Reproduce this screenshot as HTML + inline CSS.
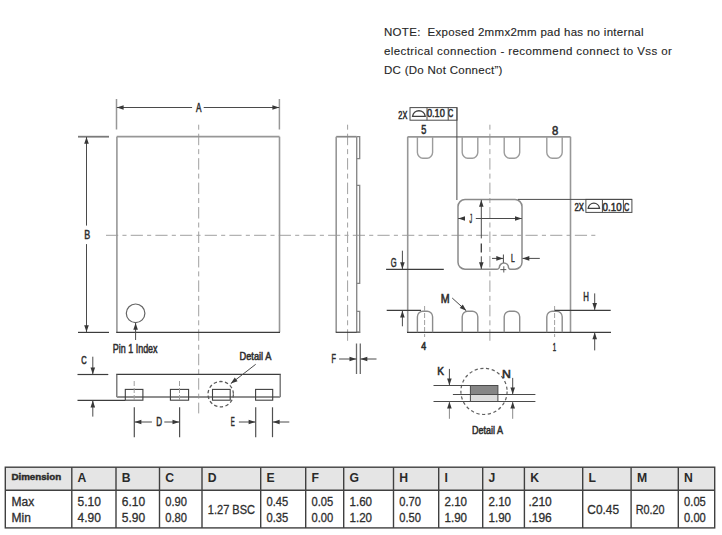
<!DOCTYPE html><html><head><meta charset="utf-8"><style>html,body{margin:0;padding:0;background:#fff;width:722px;height:535px;overflow:hidden}svg{display:block}</style></head><body>
<svg width="722" height="535" viewBox="0 0 722 535">
<rect x="0" y="0" width="722" height="535" fill="#fff"/>
<text x="384.0" y="36.1" font-family="&quot;Liberation Sans&quot;, sans-serif" font-size="11.5" fill="#262626" stroke="#262626" stroke-width="0.12" textLength="259.6" lengthAdjust="spacing" style="white-space:pre">NOTE:  Exposed 2mmx2mm pad has no internal</text>
<text x="384.0" y="54.8" font-family="&quot;Liberation Sans&quot;, sans-serif" font-size="11.5" fill="#262626" stroke="#262626" stroke-width="0.12" textLength="287.8" lengthAdjust="spacing" style="white-space:pre">electrical connection - recommend connect to Vss or</text>
<text x="384.0" y="73.7" font-family="&quot;Liberation Sans&quot;, sans-serif" font-size="11.5" fill="#262626" stroke="#262626" stroke-width="0.12" textLength="118.4" lengthAdjust="spacing" style="white-space:pre">DC (Do Not Connect”)</text>
<line x1="198.7" y1="124.7" x2="198.7" y2="413.4" stroke="#a0a0a0" stroke-width="1" stroke-dasharray="5 4 11.5 3.95" stroke-dashoffset="0"/>
<line x1="104.2" y1="235.3" x2="596.8" y2="235.3" stroke="#a0a0a0" stroke-width="1" stroke-dasharray="12.2 4.2 4.1 4.175" stroke-dashoffset="22.85"/>
<line x1="116.7" y1="136.7" x2="279.5" y2="136.7" stroke="#979797" stroke-width="1.8" />
<line x1="116.9" y1="136.7" x2="116.9" y2="332.2" stroke="#979797" stroke-width="1.6" />
<line x1="279.5" y1="136.7" x2="279.5" y2="332.2" stroke="#979797" stroke-width="1.6" />
<line x1="116.2" y1="332.4" x2="280" y2="332.4" stroke="#3c3c3c" stroke-width="1.3" />
<line x1="116.5" y1="99" x2="116.5" y2="129.5" stroke="#979797" stroke-width="1.5" />
<line x1="279.4" y1="99" x2="279.4" y2="129.5" stroke="#979797" stroke-width="1.5" />
<line x1="192.1" y1="107.5" x2="116.8" y2="107.5" stroke="#4a4a4a" stroke-width="1.0" />
<path d="M116.80,107.50 L123.60,105.20 L123.60,109.80 Z" fill="#383838"/>
<line x1="203.7" y1="107.5" x2="279.2" y2="107.5" stroke="#4a4a4a" stroke-width="1.0" />
<path d="M279.20,107.50 L272.40,109.80 L272.40,105.20 Z" fill="#383838"/>
<text x="196.00" y="111.51" font-family="&quot;Liberation Sans&quot;, sans-serif" font-size="12.23" font-weight="normal" fill="#2e2e2e" stroke="#2e2e2e" stroke-width="0.55" textLength="5.47" lengthAdjust="spacingAndGlyphs" style="white-space:pre">A</text>
<line x1="78" y1="136.7" x2="109" y2="136.7" stroke="#7a7a7a" stroke-width="1.8" />
<line x1="78" y1="332.4" x2="109" y2="332.4" stroke="#3c3c3c" stroke-width="1.2" />
<line x1="86.5" y1="225.6" x2="86.5" y2="137" stroke="#4a4a4a" stroke-width="1.0" />
<path d="M86.50,137.00 L88.80,143.80 L84.20,143.80 Z" fill="#383838"/>
<line x1="86.5" y1="244.1" x2="86.5" y2="332" stroke="#4a4a4a" stroke-width="1.0" />
<path d="M86.50,332.00 L84.20,325.20 L88.80,325.20 Z" fill="#383838"/>
<text x="84.36" y="239.21" font-family="&quot;Liberation Sans&quot;, sans-serif" font-size="13.34" font-weight="normal" fill="#2e2e2e" stroke="#2e2e2e" stroke-width="0.55" textLength="5.99" lengthAdjust="spacingAndGlyphs" style="white-space:pre">B</text>
<circle cx="135.6" cy="313.3" r="9.3" fill="none" stroke="#646464" stroke-width="1.2"/>
<line x1="135.6" y1="340" x2="135.6" y2="323" stroke="#4a4a4a" stroke-width="1.0" />
<path d="M135.60,323.00 L137.90,329.80 L133.30,329.80 Z" fill="#383838"/>
<text x="112.72" y="352.61" font-family="&quot;Liberation Sans&quot;, sans-serif" font-size="13.27" font-weight="normal" fill="#2e2e2e" stroke="#2e2e2e" stroke-width="0.55" textLength="44.87" lengthAdjust="spacingAndGlyphs" style="white-space:pre">Pin 1 Index</text>
<line x1="347.6" y1="123.8" x2="347.6" y2="342" stroke="#a0a0a0" stroke-width="1" stroke-dasharray="5 4 11.5 3.95" stroke-dashoffset="-0.9"/>
<line x1="336.2" y1="136.7" x2="356.7" y2="136.7" stroke="#888" stroke-width="1.7" />
<line x1="336.2" y1="136.7" x2="336.2" y2="332.2" stroke="#979797" stroke-width="1.6" />
<line x1="356.7" y1="136.7" x2="356.7" y2="332.2" stroke="#8a8a8a" stroke-width="1.4" />
<line x1="335.7" y1="332.3" x2="360.2" y2="332.3" stroke="#3c3c3c" stroke-width="1.2" />
<path d="M356.7,136.7 H359.7 V158.6 H356.7" fill="none" stroke="#858585" stroke-width="1.3"/>
<path d="M356.7,185.4 H359.7 V283.3 H356.7" fill="none" stroke="#858585" stroke-width="1.3"/>
<path d="M356.7,311.3 H359.7 V332.2 H356.7" fill="none" stroke="#858585" stroke-width="1.3"/>
<line x1="356.5" y1="343.5" x2="356.5" y2="374" stroke="#6a6a6a" stroke-width="1.3" />
<line x1="360.3" y1="343.5" x2="360.3" y2="374" stroke="#6a6a6a" stroke-width="1.3" />
<line x1="339.1" y1="359" x2="356.3" y2="359" stroke="#4a4a4a" stroke-width="1.0" />
<path d="M356.30,359.00 L349.50,361.30 L349.50,356.70 Z" fill="#383838"/>
<line x1="376.5" y1="359" x2="360.5" y2="359" stroke="#4a4a4a" stroke-width="1.0" />
<path d="M360.50,359.00 L367.30,356.70 L367.30,361.30 Z" fill="#383838"/>
<text x="331.56" y="363.00" font-family="&quot;Liberation Sans&quot;, sans-serif" font-size="13.04" font-weight="normal" fill="#2e2e2e" stroke="#2e2e2e" stroke-width="0.55" textLength="4.45" lengthAdjust="spacingAndGlyphs" style="white-space:pre">F</text>
<line x1="116.2" y1="374.4" x2="280.8" y2="374.4" stroke="#3c3c3c" stroke-width="1.2" />
<line x1="116.8" y1="374.4" x2="116.8" y2="397" stroke="#6a6a6a" stroke-width="1.3" />
<line x1="280.2" y1="374.4" x2="280.2" y2="397" stroke="#6a6a6a" stroke-width="1.3" />
<line x1="116.8" y1="397.0" x2="280.2" y2="397.0" stroke="#8f8f8f" stroke-width="1.8" />
<rect x="125.3" y="389.4" width="17.6" height="10.8" fill="none" stroke="#404040" stroke-width="1.1"/>
<rect x="170.4" y="389.4" width="18.2" height="10.8" fill="none" stroke="#404040" stroke-width="1.1"/>
<rect x="212.5" y="389.4" width="17.7" height="10.8" fill="none" stroke="#404040" stroke-width="1.1"/>
<rect x="255.6" y="389.4" width="17.1" height="10.8" fill="none" stroke="#404040" stroke-width="1.1"/>
<line x1="134.2" y1="381" x2="134.2" y2="400" stroke="#a0a0a0" stroke-width="1" stroke-dasharray="5 2" stroke-dashoffset="0"/>
<line x1="179.5" y1="381" x2="179.5" y2="400" stroke="#a0a0a0" stroke-width="1" stroke-dasharray="5 2" stroke-dashoffset="0"/>
<line x1="77.5" y1="374.5" x2="108.3" y2="374.5" stroke="#3c3c3c" stroke-width="1.2" />
<line x1="77.5" y1="400.3" x2="125.3" y2="400.3" stroke="#3c3c3c" stroke-width="1.2" />
<line x1="92.8" y1="356.7" x2="92.8" y2="374.3" stroke="#4a4a4a" stroke-width="1.0" />
<path d="M92.80,374.30 L90.50,367.50 L95.10,367.50 Z" fill="#383838"/>
<line x1="92.8" y1="416.6" x2="92.8" y2="400.6" stroke="#4a4a4a" stroke-width="1.0" />
<path d="M92.80,400.60 L95.10,407.40 L90.50,407.40 Z" fill="#383838"/>
<text x="81.37" y="363.89" font-family="&quot;Liberation Sans&quot;, sans-serif" font-size="11.32" font-weight="normal" fill="#2e2e2e" stroke="#2e2e2e" stroke-width="0.55" textLength="5.42" lengthAdjust="spacingAndGlyphs" style="white-space:pre">C</text>
<line x1="134.3" y1="407.3" x2="134.3" y2="437.2" stroke="#505050" stroke-width="1.2" />
<line x1="179.6" y1="407.3" x2="179.6" y2="437.2" stroke="#505050" stroke-width="1.2" />
<line x1="151.9" y1="422" x2="134.6" y2="422" stroke="#4a4a4a" stroke-width="1.0" />
<path d="M134.60,422.00 L141.40,419.70 L141.40,424.30 Z" fill="#383838"/>
<line x1="164.3" y1="422" x2="179.3" y2="422" stroke="#4a4a4a" stroke-width="1.0" />
<path d="M179.30,422.00 L172.50,424.30 L172.50,419.70 Z" fill="#383838"/>
<text x="156.21" y="426.00" font-family="&quot;Liberation Sans&quot;, sans-serif" font-size="12.23" font-weight="normal" fill="#2e2e2e" stroke="#2e2e2e" stroke-width="0.55" textLength="5.83" lengthAdjust="spacingAndGlyphs" style="white-space:pre">D</text>
<line x1="255.7" y1="407.3" x2="255.7" y2="437.2" stroke="#505050" stroke-width="1.2" />
<line x1="272.5" y1="407.3" x2="272.5" y2="437.2" stroke="#505050" stroke-width="1.2" />
<line x1="238.9" y1="422" x2="255.4" y2="422" stroke="#4a4a4a" stroke-width="1.0" />
<path d="M255.40,422.00 L248.60,424.30 L248.60,419.70 Z" fill="#383838"/>
<line x1="289.3" y1="422" x2="272.8" y2="422" stroke="#4a4a4a" stroke-width="1.0" />
<path d="M272.80,422.00 L279.60,419.70 L279.60,424.30 Z" fill="#383838"/>
<text x="230.67" y="426.00" font-family="&quot;Liberation Sans&quot;, sans-serif" font-size="12.23" font-weight="normal" fill="#2e2e2e" stroke="#2e2e2e" stroke-width="0.55" textLength="4.00" lengthAdjust="spacingAndGlyphs" style="white-space:pre">E</text>
<circle cx="220.7" cy="394.2" r="12.7" fill="none" stroke="#5a5a5a" stroke-width="1.3" stroke-dasharray="3.4 2.4"/>
<line x1="255.7" y1="364.3" x2="230.8" y2="383.6" stroke="#4a4a4a" stroke-width="1.0" />
<path d="M230.80,383.60 L234.77,377.62 L237.58,381.25 Z" fill="#383838"/>
<text x="239.59" y="360.36" font-family="&quot;Liberation Sans&quot;, sans-serif" font-size="11.32" font-weight="normal" fill="#2e2e2e" stroke="#2e2e2e" stroke-width="0.55" textLength="31.79" lengthAdjust="spacingAndGlyphs" style="white-space:pre">Detail A</text>
<line x1="489.9" y1="124.7" x2="489.9" y2="342.5" stroke="#a0a0a0" stroke-width="1" stroke-dasharray="5 4 11.5 3.95" stroke-dashoffset="0"/>
<line x1="407.6" y1="136.8" x2="570.5" y2="136.8" stroke="#979797" stroke-width="1.8" />
<line x1="407.7" y1="136.8" x2="407.7" y2="332.2" stroke="#979797" stroke-width="1.6" />
<line x1="570.5" y1="136.8" x2="570.5" y2="332.2" stroke="#979797" stroke-width="1.6" />
<line x1="407.0" y1="332.3" x2="611" y2="332.3" stroke="#3c3c3c" stroke-width="1.3" />
<path d="M417.4,136.8 V152.6 C417.4,155.6 420.2,158.3 422.79999999999995,158.3 H427.20000000000005 C429.8,158.3 432.6,155.6 432.6,152.6 V136.8" fill="none" stroke="#9c9c9c" stroke-width="1.4"/>
<path d="M417.4,332.2 V316.7 C417.4,313.8 420.2,311.2 422.79999999999995,311.2 H427.20000000000005 C429.8,311.2 432.6,313.8 432.6,316.7 V332.2" fill="none" stroke="#8c8c8c" stroke-width="1.4"/>
<path d="M462.2,136.8 V152.6 C462.2,155.6 465.0,158.3 467.59999999999997,158.3 H472.40000000000003 C475.0,158.3 477.8,155.6 477.8,152.6 V136.8" fill="none" stroke="#9c9c9c" stroke-width="1.4"/>
<path d="M462.2,332.2 V316.7 C462.2,313.8 465.0,311.2 467.59999999999997,311.2 H472.40000000000003 C475.0,311.2 477.8,313.8 477.8,316.7 V332.2" fill="none" stroke="#8c8c8c" stroke-width="1.4"/>
<path d="M504.2,136.8 V152.6 C504.2,155.6 507.0,158.3 509.59999999999997,158.3 H514.3000000000001 C516.9000000000001,158.3 519.7,155.6 519.7,152.6 V136.8" fill="none" stroke="#9c9c9c" stroke-width="1.4"/>
<path d="M504.2,332.2 V316.7 C504.2,313.8 507.0,311.2 509.59999999999997,311.2 H514.3000000000001 C516.9000000000001,311.2 519.7,313.8 519.7,316.7 V332.2" fill="none" stroke="#8c8c8c" stroke-width="1.4"/>
<path d="M546.8,136.8 V152.6 C546.8,155.6 549.5999999999999,158.3 552.1999999999999,158.3 H556.8000000000001 C559.4000000000001,158.3 562.2,155.6 562.2,152.6 V136.8" fill="none" stroke="#9c9c9c" stroke-width="1.4"/>
<path d="M546.8,332.2 V316.7 C546.8,313.8 549.5999999999999,311.2 552.1999999999999,311.2 H556.8000000000001 C559.4000000000001,311.2 562.2,313.8 562.2,316.7 V332.2" fill="none" stroke="#8c8c8c" stroke-width="1.4"/>
<line x1="424.6" y1="306" x2="424.6" y2="337" stroke="#a0a0a0" stroke-width="1" stroke-dasharray="5 2" stroke-dashoffset="0"/>
<line x1="554.6" y1="306" x2="554.6" y2="337" stroke="#a0a0a0" stroke-width="1" stroke-dasharray="5 2" stroke-dashoffset="0"/>
<path d="M465,199.6 H515 A7,7 0 0 1 522,206.6 V262.2 A7,7 0 0 1 515,269.2 H510.6 Q509,269.2 508.5,267.6 A4.6,4.6 0 0 0 499.3,267.6 Q498.8,269.2 497.2,269.2 H465 A7,7 0 0 1 458,262.2 V206.6 A7,7 0 0 1 465,199.6 Z" fill="none" stroke="#8a8a8a" stroke-width="1.5"/>
<line x1="500.3" y1="269.6" x2="506.3" y2="269.6" stroke="#4a4a4a" stroke-width="0.9" />
<line x1="503.8" y1="266.3" x2="503.8" y2="272.5" stroke="#4a4a4a" stroke-width="0.9" />
<line x1="456.9" y1="107.6" x2="456.9" y2="200" stroke="#4a4a4a" stroke-width="1.0" />
<rect x="410" y="107.6" width="47" height="12.6" fill="none" stroke="#4a4a4a" stroke-width="1"/>
<line x1="427" y1="107.6" x2="427" y2="120.2" stroke="#4a4a4a" stroke-width="1.0" />
<line x1="448.2" y1="107.6" x2="448.2" y2="120.2" stroke="#4a4a4a" stroke-width="1.0" />
<path d="M412.6,116.3 A6.35,6.4 0 0 1 425.2,116.3 Z" fill="none" stroke="#404040" stroke-width="1.35"/>
<text x="398.32" y="118.55" font-family="&quot;Liberation Sans&quot;, sans-serif" font-size="11.32" font-weight="normal" fill="#2e2e2e" stroke="#2e2e2e" stroke-width="0.55" textLength="8.94" lengthAdjust="spacingAndGlyphs" style="white-space:pre">2X</text>
<text x="426.90" y="117.42" font-family="&quot;Liberation Sans&quot;, sans-serif" font-size="11.35" font-weight="normal" fill="#2e2e2e" stroke="#2e2e2e" stroke-width="0.55" textLength="17.92" lengthAdjust="spacingAndGlyphs" style="white-space:pre">0.10</text>
<text x="448.11" y="117.42" font-family="&quot;Liberation Sans&quot;, sans-serif" font-size="11.35" font-weight="normal" fill="#2e2e2e" stroke="#2e2e2e" stroke-width="0.55" textLength="5.28" lengthAdjust="spacingAndGlyphs" style="white-space:pre">C</text>
<line x1="518" y1="199.4" x2="631.8" y2="199.4" stroke="#4a4a4a" stroke-width="1.0" />
<rect x="585.9" y="199.4" width="46" height="13" fill="none" stroke="#4a4a4a" stroke-width="1"/>
<line x1="602.4" y1="199.4" x2="602.4" y2="212.4" stroke="#4a4a4a" stroke-width="1.0" />
<line x1="623.4" y1="199.4" x2="623.4" y2="212.4" stroke="#4a4a4a" stroke-width="1.0" />
<path d="M588.2,208.3 A5.7,5.9 0 0 1 599.5,208.3 Z" fill="none" stroke="#404040" stroke-width="1.35"/>
<text x="574.41" y="211.00" font-family="&quot;Liberation Sans&quot;, sans-serif" font-size="11.79" font-weight="normal" fill="#2e2e2e" stroke="#2e2e2e" stroke-width="0.55" textLength="9.53" lengthAdjust="spacingAndGlyphs" style="white-space:pre">2X</text>
<text x="602.62" y="211.00" font-family="&quot;Liberation Sans&quot;, sans-serif" font-size="11.79" font-weight="normal" fill="#2e2e2e" stroke="#2e2e2e" stroke-width="0.55" textLength="19.05" lengthAdjust="spacingAndGlyphs" style="white-space:pre">0.10</text>
<text x="623.89" y="211.00" font-family="&quot;Liberation Sans&quot;, sans-serif" font-size="11.79" font-weight="normal" fill="#2e2e2e" stroke="#2e2e2e" stroke-width="0.55" textLength="5.29" lengthAdjust="spacingAndGlyphs" style="white-space:pre">C</text>
<text x="421.22" y="134.23" font-family="&quot;Liberation Sans&quot;, sans-serif" font-size="12.12" font-weight="normal" fill="#2e2e2e" stroke="#2e2e2e" stroke-width="0.55" textLength="5.11" lengthAdjust="spacingAndGlyphs" style="white-space:pre">5</text>
<text x="552.00" y="134.89" font-family="&quot;Liberation Sans&quot;, sans-serif" font-size="12.59" font-weight="normal" fill="#2e2e2e" stroke="#2e2e2e" stroke-width="0.55" textLength="6.31" lengthAdjust="spacingAndGlyphs" style="white-space:pre">8</text>
<text x="421.35" y="350.14" font-family="&quot;Liberation Sans&quot;, sans-serif" font-size="10.01" font-weight="normal" fill="#2e2e2e" stroke="#2e2e2e" stroke-width="0.55" textLength="4.91" lengthAdjust="spacingAndGlyphs" style="white-space:pre">4</text>
<text x="552.63" y="350.72" font-family="&quot;Liberation Sans&quot;, sans-serif" font-size="11.59" font-weight="normal" fill="#2e2e2e" stroke="#2e2e2e" stroke-width="0.55" textLength="3.39" lengthAdjust="spacingAndGlyphs" style="white-space:pre">1</text>
<line x1="481.3" y1="238.4" x2="481.3" y2="199.9" stroke="#4a4a4a" stroke-width="1.0" />
<path d="M481.30,199.90 L483.60,206.70 L479.00,206.70 Z" fill="#383838"/>
<line x1="481.3" y1="256.3" x2="481.3" y2="269.0" stroke="#4a4a4a" stroke-width="1.0" />
<path d="M481.30,269.00 L479.00,262.20 L483.60,262.20 Z" fill="#383838"/>
<line x1="481.3" y1="243.6" x2="481.3" y2="252.6" stroke="#3a3a3a" stroke-width="1.3" />
<line x1="464.8" y1="218.5" x2="458.2" y2="218.5" stroke="#4a4a4a" stroke-width="1.0" />
<path d="M458.20,218.50 L465.00,216.20 L465.00,220.80 Z" fill="#383838"/>
<line x1="475.8" y1="218.5" x2="521.8" y2="218.5" stroke="#4a4a4a" stroke-width="1.0" />
<path d="M521.80,218.50 L515.00,220.80 L515.00,216.20 Z" fill="#383838"/>
<text x="469.53" y="223.28" font-family="&quot;Liberation Sans&quot;, sans-serif" font-size="13.04" font-weight="normal" fill="#2e2e2e" stroke="#2e2e2e" stroke-width="0.55" textLength="2.66" lengthAdjust="spacingAndGlyphs" style="white-space:pre">J</text>
<line x1="492" y1="258.4" x2="503.1" y2="258.4" stroke="#4a4a4a" stroke-width="1.0" />
<path d="M503.10,258.40 L496.30,260.70 L496.30,256.10 Z" fill="#383838"/>
<line x1="503.4" y1="254.5" x2="503.4" y2="262.8" stroke="#4a4a4a" stroke-width="1.0" />
<line x1="539.8" y1="258.4" x2="522.5" y2="258.4" stroke="#4a4a4a" stroke-width="1.0" />
<path d="M522.50,258.40 L529.30,256.10 L529.30,260.70 Z" fill="#383838"/>
<text x="511.00" y="261.72" font-family="&quot;Liberation Sans&quot;, sans-serif" font-size="10.78" font-weight="normal" fill="#2e2e2e" stroke="#2e2e2e" stroke-width="0.55" textLength="3.73" lengthAdjust="spacingAndGlyphs" style="white-space:pre">L</text>
<line x1="386.1" y1="269.4" x2="443.8" y2="269.4" stroke="#3c3c3c" stroke-width="1.2" />
<line x1="402.4" y1="250.7" x2="402.4" y2="269.1" stroke="#4a4a4a" stroke-width="1.0" />
<path d="M402.40,269.10 L400.10,262.30 L404.70,262.30 Z" fill="#383838"/>
<text x="390.75" y="267.36" font-family="&quot;Liberation Sans&quot;, sans-serif" font-size="12.23" font-weight="normal" fill="#2e2e2e" stroke="#2e2e2e" stroke-width="0.55" textLength="5.87" lengthAdjust="spacingAndGlyphs" style="white-space:pre">G</text>
<line x1="452.2" y1="298" x2="466.3" y2="310.8" stroke="#4a4a4a" stroke-width="1.0" />
<path d="M466.30,310.80 L459.72,307.93 L462.81,304.53 Z" fill="#383838"/>
<text x="440.86" y="303.26" font-family="&quot;Liberation Sans&quot;, sans-serif" font-size="11.91" font-weight="normal" fill="#2e2e2e" stroke="#2e2e2e" stroke-width="0.55" textLength="8.87" lengthAdjust="spacingAndGlyphs" style="white-space:pre">M</text>
<line x1="554.6" y1="310.3" x2="610.7" y2="310.3" stroke="#3c3c3c" stroke-width="1.2" />
<line x1="594.7" y1="293.4" x2="594.7" y2="309.9" stroke="#4a4a4a" stroke-width="1.0" />
<path d="M594.70,309.90 L592.40,303.10 L597.00,303.10 Z" fill="#383838"/>
<line x1="594.7" y1="350.4" x2="594.7" y2="332.5" stroke="#4a4a4a" stroke-width="1.0" />
<path d="M594.70,332.50 L597.00,339.30 L592.40,339.30 Z" fill="#383838"/>
<text x="583.26" y="300.56" font-family="&quot;Liberation Sans&quot;, sans-serif" font-size="12.23" font-weight="normal" fill="#2e2e2e" stroke="#2e2e2e" stroke-width="0.55" textLength="5.63" lengthAdjust="spacingAndGlyphs" style="white-space:pre">H</text>
<line x1="386.7" y1="310.4" x2="421" y2="310.4" stroke="#3c3c3c" stroke-width="1.2" />
<line x1="402.4" y1="326.3" x2="402.4" y2="310.7" stroke="#4a4a4a" stroke-width="1.0" />
<path d="M402.40,310.70 L404.70,317.50 L400.10,317.50 Z" fill="#383838"/>
<circle cx="484" cy="391.4" r="23.1" fill="none" stroke="#606060" stroke-width="1.2" stroke-dasharray="3.2 2.6"/>
<line x1="433.5" y1="385.5" x2="470.4" y2="385.5" stroke="#4a4a4a" stroke-width="1.0" />
<line x1="452.9" y1="394.5" x2="535.4" y2="394.5" stroke="#4a4a4a" stroke-width="1.0" />
<line x1="433.5" y1="401.5" x2="535.4" y2="401.5" stroke="#4a4a4a" stroke-width="1.0" />
<rect x="470.4" y="385.5" width="27.5" height="9" fill="#868686" stroke="#4a4a4a" stroke-width="1"/>
<rect x="470.4" y="394.5" width="27.5" height="7" fill="#dcdcdc" stroke="#4a4a4a" stroke-width="1"/>
<line x1="449.4" y1="368.9" x2="449.4" y2="385.2" stroke="#4a4a4a" stroke-width="1.0" />
<path d="M449.40,385.20 L447.10,378.40 L451.70,378.40 Z" fill="#383838"/>
<line x1="449.4" y1="418.8" x2="449.4" y2="401.8" stroke="#8a8a8a" stroke-width="1.0" />
<path d="M449.40,401.80 L451.70,408.60 L447.10,408.60 Z" fill="#383838"/>
<line x1="512.7" y1="377.9" x2="512.7" y2="394.2" stroke="#4a4a4a" stroke-width="1.0" />
<path d="M512.70,394.20 L510.40,387.40 L515.00,387.40 Z" fill="#383838"/>
<line x1="512.7" y1="418.8" x2="512.7" y2="401.8" stroke="#8a8a8a" stroke-width="1.0" />
<path d="M512.70,401.80 L515.00,408.60 L510.40,408.60 Z" fill="#383838"/>
<text x="437.19" y="375.37" font-family="&quot;Liberation Sans&quot;, sans-serif" font-size="10.77" font-weight="normal" fill="#2e2e2e" stroke="#2e2e2e" stroke-width="0.55" textLength="6.74" lengthAdjust="spacingAndGlyphs" style="white-space:pre">K</text>
<text x="501.99" y="378.17" font-family="&quot;Liberation Sans&quot;, sans-serif" font-size="10.90" font-weight="normal" fill="#2e2e2e" stroke="#2e2e2e" stroke-width="0.55" textLength="8.86" lengthAdjust="spacingAndGlyphs" style="white-space:pre">N</text>
<text x="472.00" y="434.45" font-family="&quot;Liberation Sans&quot;, sans-serif" font-size="11.32" font-weight="normal" fill="#2e2e2e" stroke="#2e2e2e" stroke-width="0.55" textLength="31.06" lengthAdjust="spacingAndGlyphs" style="white-space:pre">Detail A</text>
<rect x="5.3" y="467.2" width="709.4" height="23.0" fill="#e5e5e5"/>
<rect x="5.3" y="467.2" width="709.4" height="60.7" fill="none" stroke="#404040" stroke-width="1.4"/>
<line x1="5.3" y1="490.2" x2="714.7" y2="490.2" stroke="#404040" stroke-width="1.4" />
<line x1="71.8" y1="467.2" x2="71.8" y2="527.9" stroke="#404040" stroke-width="1.4" />
<line x1="116" y1="467.2" x2="116" y2="527.9" stroke="#404040" stroke-width="1.4" />
<line x1="159.5" y1="467.2" x2="159.5" y2="527.9" stroke="#404040" stroke-width="1.4" />
<line x1="202" y1="467.2" x2="202" y2="527.9" stroke="#404040" stroke-width="1.4" />
<line x1="260.7" y1="467.2" x2="260.7" y2="527.9" stroke="#404040" stroke-width="1.4" />
<line x1="305.7" y1="467.2" x2="305.7" y2="527.9" stroke="#404040" stroke-width="1.4" />
<line x1="343.7" y1="467.2" x2="343.7" y2="527.9" stroke="#404040" stroke-width="1.4" />
<line x1="393.5" y1="467.2" x2="393.5" y2="527.9" stroke="#404040" stroke-width="1.4" />
<line x1="438.7" y1="467.2" x2="438.7" y2="527.9" stroke="#404040" stroke-width="1.4" />
<line x1="482.7" y1="467.2" x2="482.7" y2="527.9" stroke="#404040" stroke-width="1.4" />
<line x1="524.4" y1="467.2" x2="524.4" y2="527.9" stroke="#404040" stroke-width="1.4" />
<line x1="582.7" y1="467.2" x2="582.7" y2="527.9" stroke="#404040" stroke-width="1.4" />
<line x1="631.1" y1="467.2" x2="631.1" y2="527.9" stroke="#404040" stroke-width="1.4" />
<line x1="678.3" y1="467.2" x2="678.3" y2="527.9" stroke="#404040" stroke-width="1.4" />
<text x="11.4" y="480.4" font-family="&quot;Liberation Sans&quot;, sans-serif" font-size="9.6" font-weight="bold" fill="#2a2a2a" stroke="#2a2a2a" stroke-width="0.45" textLength="49.8" lengthAdjust="spacingAndGlyphs">Dimension</text>
<text x="11.6" y="505.7" font-family="&quot;Liberation Sans&quot;, sans-serif" font-size="12" font-weight="normal" fill="#2e2e2e" stroke="#2e2e2e" stroke-width="0.3">Max</text>
<text x="11.6" y="521.5" font-family="&quot;Liberation Sans&quot;, sans-serif" font-size="12" font-weight="normal" fill="#2e2e2e" stroke="#2e2e2e" stroke-width="0.3">Min</text>
<text x="77.6" y="482.4" font-family="&quot;Liberation Sans&quot;, sans-serif" font-size="12.2" font-weight="bold" fill="#2a2a2a">A</text>
<text x="77.6" y="505.7" font-family="&quot;Liberation Sans&quot;, sans-serif" font-size="12" font-weight="normal" fill="#2e2e2e" stroke="#2e2e2e" stroke-width="0.3" textLength="23.36" lengthAdjust="spacingAndGlyphs">5.10</text>
<text x="77.6" y="521.5" font-family="&quot;Liberation Sans&quot;, sans-serif" font-size="12" font-weight="normal" fill="#2e2e2e" stroke="#2e2e2e" stroke-width="0.3" textLength="23.36" lengthAdjust="spacingAndGlyphs">4.90</text>
<text x="121.8" y="482.4" font-family="&quot;Liberation Sans&quot;, sans-serif" font-size="12.2" font-weight="bold" fill="#2a2a2a">B</text>
<text x="121.8" y="505.7" font-family="&quot;Liberation Sans&quot;, sans-serif" font-size="12" font-weight="normal" fill="#2e2e2e" stroke="#2e2e2e" stroke-width="0.3" textLength="23.36" lengthAdjust="spacingAndGlyphs">6.10</text>
<text x="121.8" y="521.5" font-family="&quot;Liberation Sans&quot;, sans-serif" font-size="12" font-weight="normal" fill="#2e2e2e" stroke="#2e2e2e" stroke-width="0.3" textLength="23.36" lengthAdjust="spacingAndGlyphs">5.90</text>
<text x="165.3" y="482.4" font-family="&quot;Liberation Sans&quot;, sans-serif" font-size="12.2" font-weight="bold" fill="#2a2a2a">C</text>
<text x="165.3" y="505.7" font-family="&quot;Liberation Sans&quot;, sans-serif" font-size="12" font-weight="normal" fill="#2e2e2e" stroke="#2e2e2e" stroke-width="0.3" textLength="21.72" lengthAdjust="spacingAndGlyphs">0.90</text>
<text x="165.3" y="521.5" font-family="&quot;Liberation Sans&quot;, sans-serif" font-size="12" font-weight="normal" fill="#2e2e2e" stroke="#2e2e2e" stroke-width="0.3" textLength="21.72" lengthAdjust="spacingAndGlyphs">0.80</text>
<text x="207.8" y="482.4" font-family="&quot;Liberation Sans&quot;, sans-serif" font-size="12.2" font-weight="bold" fill="#2a2a2a">D</text>
<text x="207.8" y="514.4" font-family="&quot;Liberation Sans&quot;, sans-serif" font-size="12.6" font-weight="normal" fill="#2e2e2e" stroke="#2e2e2e" stroke-width="0.3" textLength="47.20" lengthAdjust="spacingAndGlyphs">1.27 BSC</text>
<text x="266.5" y="482.4" font-family="&quot;Liberation Sans&quot;, sans-serif" font-size="12.2" font-weight="bold" fill="#2a2a2a">E</text>
<text x="266.5" y="505.7" font-family="&quot;Liberation Sans&quot;, sans-serif" font-size="12" font-weight="normal" fill="#2e2e2e" stroke="#2e2e2e" stroke-width="0.3" textLength="21.72" lengthAdjust="spacingAndGlyphs">0.45</text>
<text x="266.5" y="521.5" font-family="&quot;Liberation Sans&quot;, sans-serif" font-size="12" font-weight="normal" fill="#2e2e2e" stroke="#2e2e2e" stroke-width="0.3" textLength="21.72" lengthAdjust="spacingAndGlyphs">0.35</text>
<text x="311.5" y="482.4" font-family="&quot;Liberation Sans&quot;, sans-serif" font-size="12.2" font-weight="bold" fill="#2a2a2a">F</text>
<text x="311.5" y="505.7" font-family="&quot;Liberation Sans&quot;, sans-serif" font-size="12" font-weight="normal" fill="#2e2e2e" stroke="#2e2e2e" stroke-width="0.3" textLength="21.72" lengthAdjust="spacingAndGlyphs">0.05</text>
<text x="311.5" y="521.5" font-family="&quot;Liberation Sans&quot;, sans-serif" font-size="12" font-weight="normal" fill="#2e2e2e" stroke="#2e2e2e" stroke-width="0.3" textLength="21.72" lengthAdjust="spacingAndGlyphs">0.00</text>
<text x="349.5" y="482.4" font-family="&quot;Liberation Sans&quot;, sans-serif" font-size="12.2" font-weight="bold" fill="#2a2a2a">G</text>
<text x="349.5" y="505.7" font-family="&quot;Liberation Sans&quot;, sans-serif" font-size="12" font-weight="normal" fill="#2e2e2e" stroke="#2e2e2e" stroke-width="0.3" textLength="22.54" lengthAdjust="spacingAndGlyphs">1.60</text>
<text x="349.5" y="521.5" font-family="&quot;Liberation Sans&quot;, sans-serif" font-size="12" font-weight="normal" fill="#2e2e2e" stroke="#2e2e2e" stroke-width="0.3" textLength="22.54" lengthAdjust="spacingAndGlyphs">1.20</text>
<text x="399.3" y="482.4" font-family="&quot;Liberation Sans&quot;, sans-serif" font-size="12.2" font-weight="bold" fill="#2a2a2a">H</text>
<text x="399.3" y="505.7" font-family="&quot;Liberation Sans&quot;, sans-serif" font-size="12" font-weight="normal" fill="#2e2e2e" stroke="#2e2e2e" stroke-width="0.3" textLength="21.72" lengthAdjust="spacingAndGlyphs">0.70</text>
<text x="399.3" y="521.5" font-family="&quot;Liberation Sans&quot;, sans-serif" font-size="12" font-weight="normal" fill="#2e2e2e" stroke="#2e2e2e" stroke-width="0.3" textLength="21.72" lengthAdjust="spacingAndGlyphs">0.50</text>
<text x="444.5" y="482.4" font-family="&quot;Liberation Sans&quot;, sans-serif" font-size="12.2" font-weight="bold" fill="#2a2a2a">I</text>
<text x="444.5" y="505.7" font-family="&quot;Liberation Sans&quot;, sans-serif" font-size="12" font-weight="normal" fill="#2e2e2e" stroke="#2e2e2e" stroke-width="0.3" textLength="22.54" lengthAdjust="spacingAndGlyphs">2.10</text>
<text x="444.5" y="521.5" font-family="&quot;Liberation Sans&quot;, sans-serif" font-size="12" font-weight="normal" fill="#2e2e2e" stroke="#2e2e2e" stroke-width="0.3" textLength="22.54" lengthAdjust="spacingAndGlyphs">1.90</text>
<text x="488.5" y="482.4" font-family="&quot;Liberation Sans&quot;, sans-serif" font-size="12.2" font-weight="bold" fill="#2a2a2a">J</text>
<text x="488.5" y="505.7" font-family="&quot;Liberation Sans&quot;, sans-serif" font-size="12" font-weight="normal" fill="#2e2e2e" stroke="#2e2e2e" stroke-width="0.3" textLength="22.54" lengthAdjust="spacingAndGlyphs">2.10</text>
<text x="488.5" y="521.5" font-family="&quot;Liberation Sans&quot;, sans-serif" font-size="12" font-weight="normal" fill="#2e2e2e" stroke="#2e2e2e" stroke-width="0.3" textLength="22.54" lengthAdjust="spacingAndGlyphs">1.90</text>
<text x="530.2" y="482.4" font-family="&quot;Liberation Sans&quot;, sans-serif" font-size="12.2" font-weight="bold" fill="#2a2a2a">K</text>
<text x="528.4" y="505.7" font-family="&quot;Liberation Sans&quot;, sans-serif" font-size="12" font-weight="normal" fill="#2e2e2e" stroke="#2e2e2e" stroke-width="0.3" textLength="23.36" lengthAdjust="spacingAndGlyphs">.210</text>
<text x="528.4" y="521.5" font-family="&quot;Liberation Sans&quot;, sans-serif" font-size="12" font-weight="normal" fill="#2e2e2e" stroke="#2e2e2e" stroke-width="0.3" textLength="23.36" lengthAdjust="spacingAndGlyphs">.196</text>
<text x="588.5" y="482.4" font-family="&quot;Liberation Sans&quot;, sans-serif" font-size="12.2" font-weight="bold" fill="#2a2a2a">L</text>
<text x="587.3" y="514.4" font-family="&quot;Liberation Sans&quot;, sans-serif" font-size="12.6" font-weight="normal" fill="#2e2e2e" stroke="#2e2e2e" stroke-width="0.3" textLength="31.78" lengthAdjust="spacingAndGlyphs">C0.45</text>
<text x="636.9" y="482.4" font-family="&quot;Liberation Sans&quot;, sans-serif" font-size="12.2" font-weight="bold" fill="#2a2a2a">M</text>
<text x="635.7" y="514.4" font-family="&quot;Liberation Sans&quot;, sans-serif" font-size="12.6" font-weight="normal" fill="#2e2e2e" stroke="#2e2e2e" stroke-width="0.3" textLength="28.92" lengthAdjust="spacingAndGlyphs">R0.20</text>
<text x="684.1" y="482.4" font-family="&quot;Liberation Sans&quot;, sans-serif" font-size="12.2" font-weight="bold" fill="#2a2a2a">N</text>
<text x="684.1" y="505.7" font-family="&quot;Liberation Sans&quot;, sans-serif" font-size="12" font-weight="normal" fill="#2e2e2e" stroke="#2e2e2e" stroke-width="0.3" textLength="21.72" lengthAdjust="spacingAndGlyphs">0.05</text>
<text x="684.1" y="521.5" font-family="&quot;Liberation Sans&quot;, sans-serif" font-size="12" font-weight="normal" fill="#2e2e2e" stroke="#2e2e2e" stroke-width="0.3" textLength="21.72" lengthAdjust="spacingAndGlyphs">0.00</text>
</svg></body></html>
